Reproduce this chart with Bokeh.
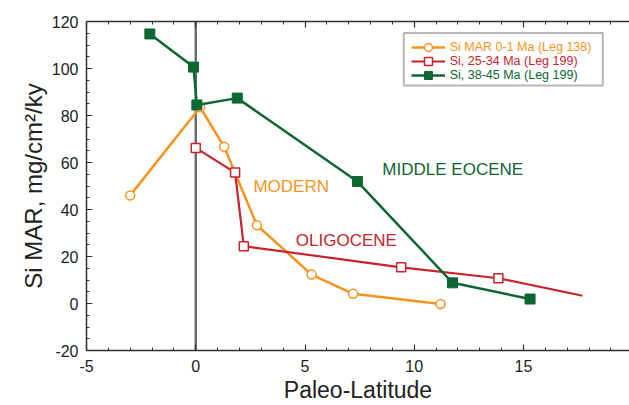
from bokeh.plotting import figure
from bokeh.models import (Range1d, SingleIntervalTicker, LinearAxis, Span, Legend,
                          LegendItem, BoxAnnotation, ColumnDataSource,
                          PrintfTickFormatter, CustomLabelingPolicy)
from bokeh.core.properties import value
from bokeh.embed import file_html
from bokeh.resources import INLINE

# ---- data ----
modern_x = [-3.0, 0.2, 1.3, 2.8, 5.3, 7.2, 11.2]
modern_y = [46.0, 83.5, 66.7, 33.3, 12.3, 4.1, -0.2]

olig_x = [0.0, 1.8, 2.2, 9.4, 13.85]
olig_y = [66.2, 55.7, 24.4, 15.4, 10.75]
olig_end_x = [17.7]
olig_end_y = [3.3]

eoc_x = [-2.1, -0.1, 0.05, 1.9, 7.4, 11.75, 15.3]
eoc_y = [114.7, 100.6, 84.5, 87.4, 51.9, 8.8, 1.9]

series_names = ["Si MAR 0-1 Ma (Leg 138)", "Si, 25-34 Ma (Leg 199)", "Si, 38-45 Ma (Leg 199)"]
period_labels = ["MODERN", "OLIGOCENE", "MIDDLE EOCENE"]
period_label_x = [2.64, 4.58, 8.54]
period_label_y = [49.7, 26.8, 57.0]

x_title = "Paleo-Latitude"
y_title = "Si MAR, mg/cm\u00b2/ky"

ORANGE = "#F7941D"
RED = "#C8232C"
GREEN = "#0E6632"
FONT = "Liberation Sans"

p = figure(width=629, height=405, output_backend="svg", toolbar_location=None,
           x_range=Range1d(-5, 19.85), y_range=Range1d(-20, 120),
           x_axis_type=None, y_axis_type=None,
           min_border_left=86, min_border_right=0, min_border_top=21, min_border_bottom=53)
p.outline_line_color = None
p.background_fill_color = "white"


def style_axis(ax):
    ax.axis_line_color = "#333333"
    ax.axis_line_width = 1.5
    ax.major_tick_in = 6
    ax.major_tick_out = 0
    ax.minor_tick_in = 3
    ax.minor_tick_out = 0
    ax.major_tick_line_color = "#333333"
    ax.minor_tick_line_color = "#333333"
    ax.major_tick_line_width = 1.2
    ax.minor_tick_line_width = 1.0
    ax.major_label_text_font = FONT
    ax.major_label_text_color = "#222222"
    ax.major_label_text_font_size = "16px"
    ax.formatter = PrintfTickFormatter(format="%d")


yaxis = LinearAxis(ticker=SingleIntervalTicker(interval=20, num_minor_ticks=4))
style_axis(yaxis)
yaxis.major_label_standoff = 8
yaxis.axis_label = y_title
yaxis.axis_label_text_font = FONT
yaxis.axis_label_text_font_size = "24px"
yaxis.axis_label_text_font_style = "normal"
yaxis.axis_label_text_color = "#222222"
yaxis.axis_label_standoff = 2
p.add_layout(yaxis, "left")

xaxis = LinearAxis(ticker=SingleIntervalTicker(interval=5, num_minor_ticks=5))
style_axis(xaxis)
xaxis.major_label_standoff = 9
xaxis.axis_label = x_title
xaxis.axis_label_text_font = FONT
xaxis.axis_label_text_font_size = "23px"
xaxis.axis_label_text_font_style = "normal"
xaxis.axis_label_text_color = "#222222"
xaxis.axis_label_standoff = 2
p.add_layout(xaxis, "below")

# top frame line with inward ticks, labels suppressed
top_axis = LinearAxis(ticker=SingleIntervalTicker(interval=5, num_minor_ticks=5))
style_axis(top_axis)
top_axis.major_label_text_font_size = "0px"
top_axis.major_label_standoff = 0
top_axis.major_label_policy = CustomLabelingPolicy(
    code="const all = [...indices]; for (const i of all) indices.unset(i); return indices")
p.add_layout(top_axis, "above")

# vertical line at equator
p.add_layout(Span(location=0, dimension="height", line_color="#6e6e6e",
                  line_width=2.5, level="underlay"))

# ---- series ----
o_line = p.line(modern_x, modern_y, line_color=ORANGE, line_width=2.5)
o_pts = p.scatter(modern_x, modern_y, marker="circle", size=9, fill_color="white",
                  line_color=ORANGE, line_width=1.5)

r_line = p.line(olig_x + olig_end_x, olig_y + olig_end_y, line_color=RED, line_width=2.2)
r_pts = p.scatter(olig_x, olig_y, marker="square", size=9, fill_color="white",
                  line_color=RED, line_width=1.5)

g_line = p.line(eoc_x, eoc_y, line_color=GREEN, line_width=2.5)
g_pts = p.scatter(eoc_x, eoc_y, marker="square", size=10, fill_color=GREEN,
                  line_color=GREEN, line_width=1)

# period labels
src = ColumnDataSource(dict(x=period_label_x, y=period_label_y, t=period_labels,
                            c=[ORANGE, RED, GREEN]))
p.text(x="x", y="y", text="t", source=src, text_color="c", text_font=value(FONT),
       text_font_size="17px", text_align="left", text_baseline="middle")

# ---- legend (one per row so each label keeps its colour) ----
p.add_layout(BoxAnnotation(left=9.52, right=18.63, bottom=92.8, top=115.1,
                           fill_color=None, fill_alpha=0, line_color="#111111",
                           line_width=2, level="overlay"))

rows = [
    (series_names[0], [o_line, o_pts], ORANGE, 292.7),
    (series_names[1], [r_line, r_pts], RED, 278.7),
    (series_names[2], [g_line, g_pts], GREEN, 265.0),
]
for name, rends, col, yloc in rows:
    lg = Legend(items=[LegendItem(label=name, renderers=rends)], location=(324.7, yloc),
                glyph_width=34, glyph_height=20, label_height=20, label_standoff=5,
                padding=0, margin=0, spacing=0, border_line_alpha=0,
                background_fill_alpha=0, label_text_font=FONT,
                label_text_font_size="12.5px", label_text_color=col,
                label_text_baseline="middle")
    p.add_layout(lg)

open("out.html", "w").write(file_html(p, INLINE))
